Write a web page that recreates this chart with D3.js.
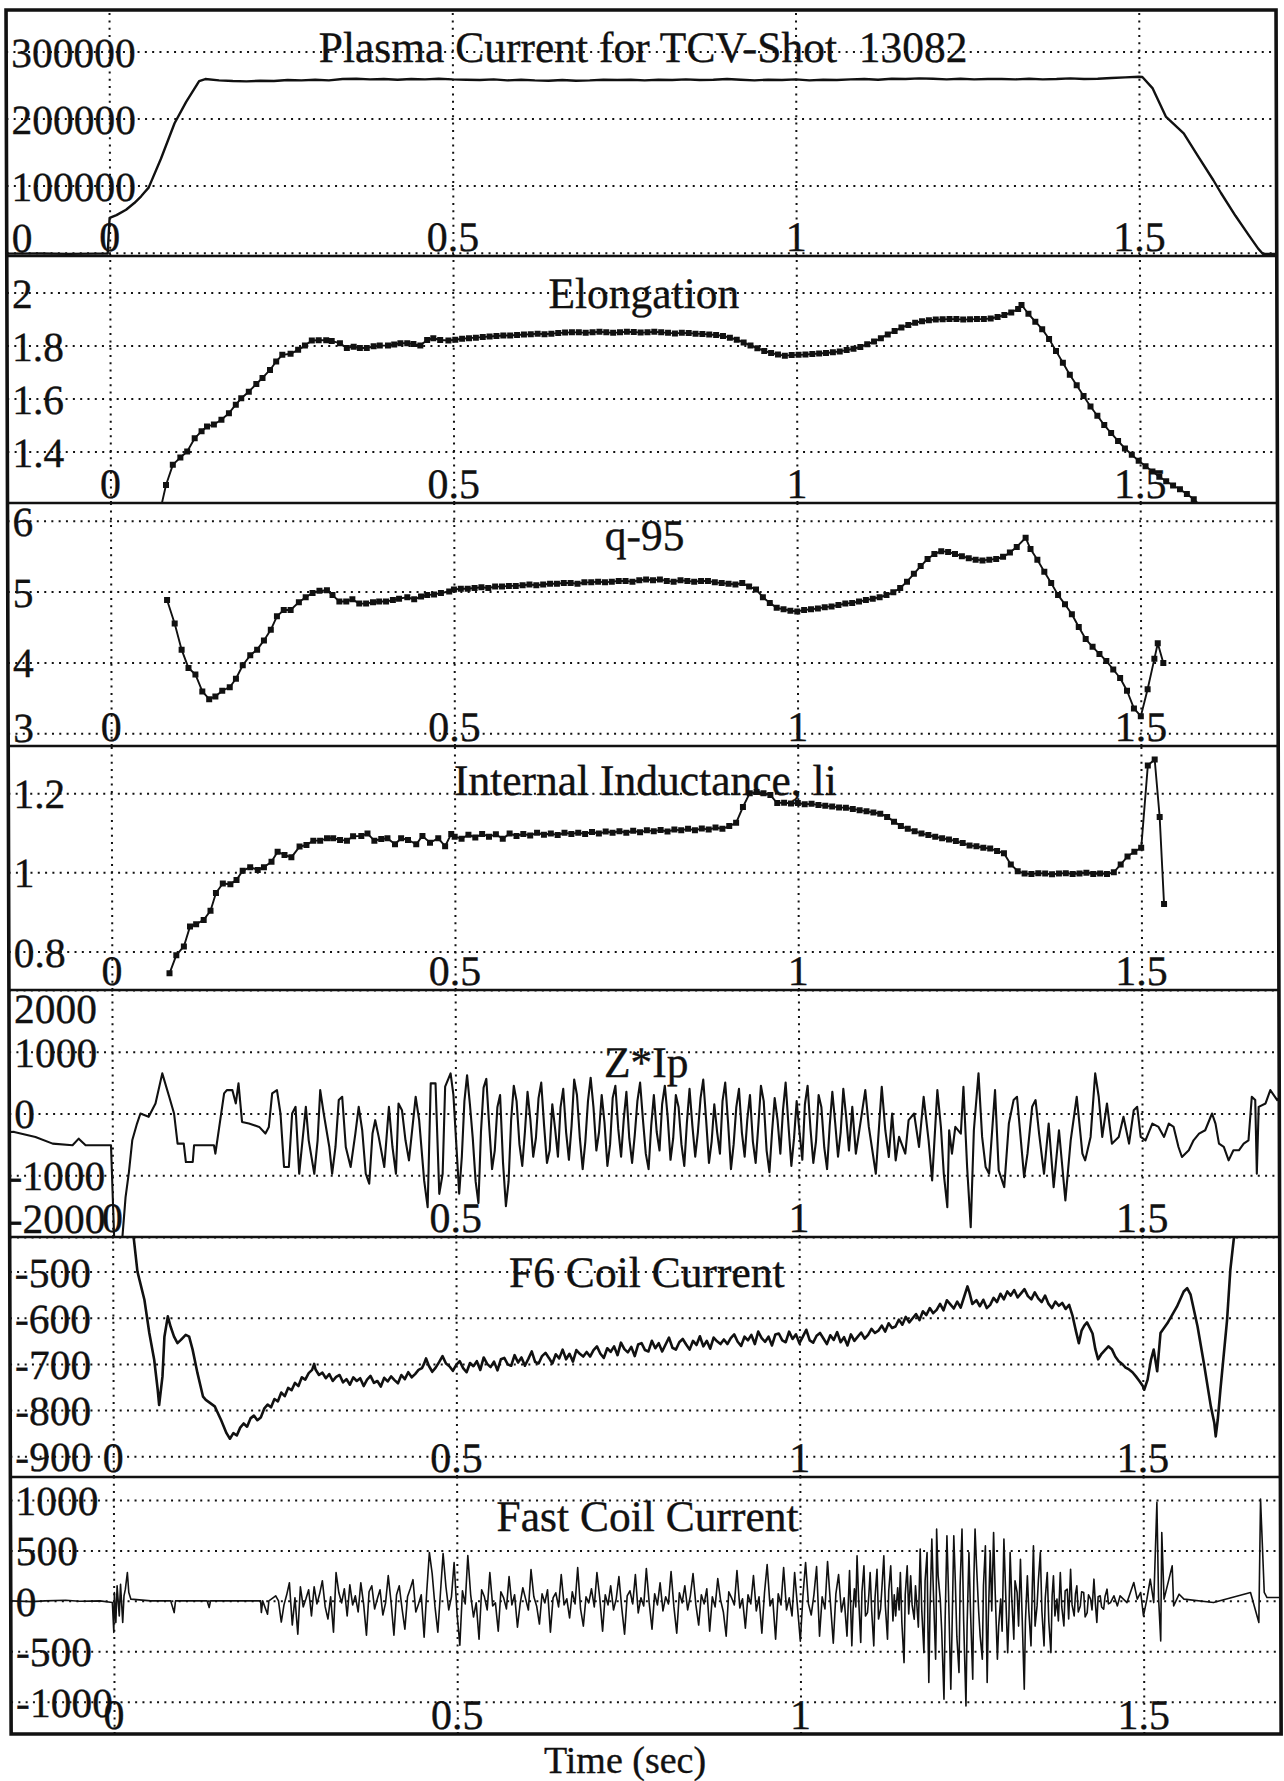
<!DOCTYPE html>
<html>
<head>
<meta charset="utf-8">
<script src="https://cdn.jsdelivr.net/npm/d3@7"></script>
<style>
  html, body { margin: 0; padding: 0; background: #fff; }
  svg { display: block; }
  text { font-family: "Liberation Serif", "Times New Roman", Times, serif; fill: #111; stroke: #111; stroke-width: 0.35; }
</style>
</head>
<body>
<svg id="chart" width="1284" height="1781"></svg>
<script>
// ---- time axis ----
const timeDomain = [-0.15, 1.7];
const timeTicks = [0, 0.5, 1, 1.5];
const timeTickLabels = ["0", "0.5", "1", "1.5"];

// ---- panel headings, value ranges and ticks ----
const panelTitles = ["Plasma Current for TCV-Shot  13082", "Elongation", "q-95",
  "Internal Inductance, li", "Z*Ip", "F6 Coil Current", "Fast Coil Current"];
const panelDomains = [[-5000, 362000], [1.206, 2.138], [2.82, 6.25], [0.703, 1.319],
  [-2000, 2000], [-945, -425], [-1320, 1228]];
const panelTicks = [[0, 100000, 200000, 300000], [1.4, 1.6, 1.8, 2], [3, 4, 5, 6],
  [0.8, 1, 1.2], [-2000, -1000, 0, 1000, 2000], [-900, -800, -700, -600, -500],
  [-1000, -500, 0, 500, 1000]];
const panelTickLabels = [["0", "100000", "200000", "300000"], ["1.4", "1.6", "1.8", "2"],
  ["3", "4", "5", "6"], ["0.8", "1", "1.2"], ["-2000", "-1000", "0", "1000", "2000"],
  ["-900", "-800", "-700", "-600", "-500"], ["-1000", "-500", "0", "500", "1000"]];

// ---- signals: [time (s), value] ----
const plasmaCurrent = [[-0.15,-1500],[-0.1,-1200],[-0.06,-1800],[-0.02,-1500],[-0.003,-1500],
  [0,52000],[0.01,56000],[0.024,64000],[0.036,74000],[0.046,84000],[0.051,90000],[0.057,97000],
  [0.075,140000],[0.095,193000],[0.112,225000],[0.131,256000],[0.14,259000],[0.16,257000],
  [0.18,256000],[0.2,255500],[0.22,256500],[0.24,256000],[0.26,257500],[0.28,257000],[0.3,258000],
  [0.32,257000],[0.34,259000],[0.36,259500],[0.38,258500],[0.4,259000],[0.42,258000],[0.44,259000],
  [0.46,258500],[0.48,259500],[0.5,258500],[0.52,258000],[0.54,257500],[0.56,258500],[0.58,257000],
  [0.6,258000],[0.62,257000],[0.64,256500],[0.66,257500],[0.68,256500],[0.7,257000],[0.72,258000],
  [0.74,257500],[0.76,258000],[0.78,257000],[0.8,258000],[0.82,257500],[0.84,258500],[0.86,257500],
  [0.88,258000],[0.9,259000],[0.92,258000],[0.94,257000],[0.96,258000],[0.98,257500],[1,258500],
  [1.02,257000],[1.04,258000],[1.06,257500],[1.08,258500],[1.1,259000],[1.12,258000],[1.14,259500],
  [1.16,259000],[1.18,260000],[1.2,259500],[1.22,258500],[1.24,259500],[1.26,258500],[1.28,259000],
  [1.3,259000],[1.32,258500],[1.34,259500],[1.36,258500],[1.38,259000],[1.4,260000],[1.42,259000],
  [1.44,259500],[1.46,260500],[1.48,261500],[1.5,262500],[1.505,262000],[1.52,245000],[1.539,203000],
  [1.565,178000],[1.585,145000],[1.608,108000],[1.619,89000],[1.64,55000],[1.66,25000],[1.673,6000],
  [1.68,-2000],[1.7,-2000]];

const elongation = [[0.07,1.15],[0.081,1.274],[0.091,1.35],[0.102,1.378],[0.112,1.4],[0.123,1.45],
  [0.133,1.477],[0.141,1.495],[0.151,1.502],[0.162,1.52],[0.173,1.545],[0.183,1.577],[0.191,1.601],
  [0.202,1.626],[0.213,1.655],[0.222,1.678],[0.233,1.708],[0.242,1.74],[0.251,1.765],[0.263,1.769],
  [0.274,1.784],[0.284,1.8],[0.294,1.819],[0.304,1.82],[0.315,1.82],[0.323,1.817],[0.335,1.809],
  [0.345,1.791],[0.355,1.796],[0.364,1.791],[0.374,1.791],[0.384,1.797],[0.393,1.8],[0.405,1.8],
  [0.414,1.804],[0.423,1.809],[0.433,1.809],[0.442,1.806],[0.452,1.8],[0.462,1.821],[0.471,1.828],
  [0.481,1.821],[0.493,1.819],[0.503,1.822],[0.513,1.826],[0.523,1.828],[0.533,1.83],[0.543,1.832],
  [0.553,1.834],[0.563,1.836],[0.573,1.838],[0.583,1.838],[0.593,1.84],[0.603,1.842],[0.613,1.843],
  [0.623,1.845],[0.633,1.843],[0.643,1.845],[0.653,1.847],[0.663,1.849],[0.673,1.85],[0.683,1.85],
  [0.693,1.848],[0.703,1.85],[0.713,1.852],[0.723,1.85],[0.733,1.848],[0.743,1.85],[0.753,1.852],
  [0.763,1.851],[0.773,1.849],[0.783,1.85],[0.793,1.852],[0.803,1.85],[0.813,1.848],[0.823,1.846],
  [0.833,1.848],[0.843,1.847],[0.853,1.845],[0.863,1.844],[0.873,1.842],[0.883,1.84],[0.893,1.836],
  [0.903,1.83],[0.913,1.822],[0.923,1.812],[0.933,1.8],[0.943,1.79],[0.953,1.78],[0.963,1.772],
  [0.973,1.766],[0.983,1.762],[0.993,1.764],[1.003,1.765],[1.013,1.766],[1.023,1.768],[1.033,1.77],
  [1.043,1.772],[1.053,1.775],[1.063,1.778],[1.073,1.783],[1.083,1.788],[1.093,1.795],[1.103,1.805],
  [1.113,1.815],[1.123,1.828],[1.133,1.842],[1.143,1.855],[1.153,1.868],[1.163,1.878],[1.173,1.886],
  [1.183,1.892],[1.193,1.896],[1.203,1.898],[1.213,1.899],[1.223,1.9],[1.233,1.9],[1.243,1.898],
  [1.253,1.899],[1.263,1.9],[1.273,1.9],[1.283,1.902],[1.293,1.908],[1.303,1.915],[1.313,1.925],
  [1.323,1.938],[1.328,1.953],[1.338,1.92],[1.348,1.89],[1.358,1.862],[1.368,1.825],[1.378,1.78],
  [1.388,1.735],[1.398,1.69],[1.408,1.65],[1.418,1.61],[1.428,1.57],[1.438,1.535],[1.448,1.5],
  [1.458,1.47],[1.468,1.44],[1.478,1.412],[1.488,1.388],[1.498,1.365],[1.508,1.345],[1.518,1.325],
  [1.528,1.305],[1.538,1.288],[1.548,1.272],[1.558,1.258],[1.568,1.24],[1.578,1.22],[1.588,1.195]];

const q95 = [[0.082,4.88],[0.093,4.55],[0.103,4.18],[0.113,3.92],[0.123,3.83],[0.133,3.59],
  [0.143,3.48],[0.152,3.52],[0.162,3.6],[0.173,3.65],[0.182,3.77],[0.192,3.96],[0.203,4.1],
  [0.213,4.18],[0.223,4.31],[0.233,4.46],[0.242,4.65],[0.252,4.74],[0.262,4.74],[0.274,4.85],
  [0.284,4.92],[0.294,4.98],[0.304,5.01],[0.315,5.02],[0.323,4.95],[0.333,4.86],[0.343,4.86],
  [0.352,4.89],[0.362,4.83],[0.372,4.83],[0.382,4.85],[0.391,4.86],[0.401,4.86],[0.411,4.88],
  [0.42,4.9],[0.432,4.92],[0.442,4.89],[0.452,4.93],[0.461,4.95],[0.471,4.96],[0.481,4.98],
  [0.493,5],[0.50,5.03],[0.51,5.04],[0.52,5.04],[0.53,5.05],[0.54,5.06],[0.55,5.05],[0.56,5.07],
  [0.57,5.07],[0.58,5.08],[0.59,5.08],[0.60,5.09],[0.61,5.10],[0.62,5.09],[0.63,5.10],[0.64,5.11],
  [0.65,5.11],[0.66,5.12],[0.67,5.12],[0.68,5.11],[0.69,5.13],[0.70,5.13],[0.71,5.14],[0.72,5.13],
  [0.73,5.14],[0.74,5.15],[0.75,5.15],[0.76,5.14],[0.77,5.16],[0.78,5.17],[0.79,5.16],[0.80,5.17],
  [0.81,5.15],[0.82,5.14],[0.83,5.16],[0.84,5.15],[0.85,5.14],[0.86,5.15],[0.87,5.15],[0.88,5.13],
  [0.89,5.12],[0.90,5.11],[0.91,5.10],[0.92,5.12],[0.93,5.07],[0.94,5.03],[0.95,4.92],[0.96,4.84],
  [0.97,4.77],[0.98,4.75],[0.99,4.73],[1.00,4.72],[1.01,4.74],[1.02,4.75],[1.03,4.76],[1.04,4.78],
  [1.05,4.79],[1.06,4.81],[1.07,4.83],[1.08,4.84],[1.09,4.86],[1.10,4.88],[1.11,4.90],[1.12,4.92],
  [1.13,4.95],[1.14,4.99],[1.15,5.05],[1.16,5.14],[1.17,5.25],[1.18,5.36],[1.19,5.46],[1.20,5.53],
  [1.21,5.57],[1.22,5.56],[1.23,5.53],[1.24,5.50],[1.25,5.47],[1.26,5.45],[1.27,5.44],[1.28,5.45],
  [1.29,5.46],[1.30,5.49],[1.31,5.55],[1.32,5.63],[1.333,5.76],[1.34,5.60],[1.35,5.45],[1.36,5.28],
  [1.37,5.12],[1.38,4.95],[1.39,4.82],[1.40,4.68],[1.41,4.50],[1.42,4.33],[1.43,4.22],[1.44,4.12],
  [1.45,4.02],[1.46,3.90],[1.47,3.78],[1.48,3.60],[1.49,3.35],[1.50,3.24],[1.51,3.62],[1.52,4.05],
  [1.525,4.27],[1.533,3.99]];

const internalInductance = [[0.084,0.745],[0.094,0.791],[0.105,0.813],[0.114,0.863],[0.123,0.869],
  [0.134,0.88],[0.144,0.903],[0.152,0.948],[0.162,0.972],[0.173,0.97],[0.182,0.981],[0.191,1.004],
  [0.202,1.013],[0.213,1.006],[0.222,1.013],[0.233,1.027],[0.242,1.052],[0.252,1.044],[0.262,1.038],
  [0.274,1.065],[0.284,1.069],[0.294,1.08],[0.304,1.08],[0.314,1.086],[0.323,1.086],[0.333,1.082],
  [0.343,1.08],[0.352,1.091],[0.364,1.092],[0.373,1.098],[0.383,1.08],[0.393,1.084],[0.402,1.086],
  [0.413,1.071],[0.422,1.086],[0.432,1.082],[0.444,1.071],[0.453,1.092],[0.464,1.075],[0.476,1.086],
  [0.486,1.066],[0.495,1.097],[0.50,1.090],[0.51,1.085],[0.52,1.095],[0.53,1.088],[0.54,1.097],
  [0.55,1.090],[0.56,1.096],[0.57,1.085],[0.58,1.098],[0.59,1.092],[0.60,1.097],[0.61,1.093],
  [0.62,1.100],[0.63,1.095],[0.64,1.098],[0.65,1.094],[0.66,1.100],[0.67,1.097],[0.68,1.100],
  [0.69,1.097],[0.70,1.102],[0.71,1.098],[0.72,1.103],[0.73,1.100],[0.74,1.104],[0.75,1.100],
  [0.76,1.105],[0.77,1.101],[0.78,1.106],[0.79,1.104],[0.80,1.107],[0.81,1.103],[0.82,1.108],
  [0.83,1.106],[0.84,1.110],[0.85,1.106],[0.86,1.111],[0.87,1.108],[0.88,1.113],[0.89,1.110],
  [0.90,1.117],[0.91,1.125],[0.92,1.165],[0.93,1.200],[0.94,1.203],[0.95,1.200],[0.96,1.195],
  [0.97,1.175],[0.98,1.176],[0.99,1.174],[1.00,1.175],[1.01,1.172],[1.02,1.173],[1.03,1.170],
  [1.04,1.168],[1.05,1.166],[1.06,1.164],[1.07,1.163],[1.08,1.160],[1.09,1.157],[1.10,1.154],
  [1.11,1.151],[1.12,1.148],[1.13,1.140],[1.14,1.128],[1.15,1.117],[1.16,1.110],[1.17,1.104],
  [1.18,1.098],[1.19,1.094],[1.20,1.090],[1.21,1.086],[1.22,1.083],[1.23,1.079],[1.24,1.074],
  [1.25,1.068],[1.26,1.066],[1.27,1.062],[1.28,1.060],[1.29,1.054],[1.30,1.048],[1.31,1.020],
  [1.32,1.003],[1.33,0.997],[1.34,0.996],[1.35,0.998],[1.36,0.997],[1.37,0.995],[1.38,0.997],
  [1.39,0.998],[1.40,0.996],[1.41,0.997],[1.42,0.999],[1.43,0.996],[1.44,0.997],[1.45,0.996],
  [1.46,1.000],[1.47,1.020],[1.48,1.040],[1.49,1.052],[1.50,1.062],[1.51,1.270],[1.52,1.285],
  [1.527,1.140],[1.533,0.920]];

const zTimesIp = [[-0.15,-300],[-0.143,-298],[-0.112,-379],[-0.087,-488],[-0.058,-515],[-0.049,-407],
  [-0.039,-515],[-0.015,-515],[-0.002,-515],[0.003,-2300],[0.012,-2300],[0.019,-1355],[0.024,-949],
  [0.029,-434],[0.036,-163],[0.041,0],[0.053,-54],[0.063,163],[0.073,650],[0.083,271],[0.09,0],
  [0.095,-488],[0.104,-488],[0.107,-786],[0.117,-786],[0.119,-515],[0.148,-515],[0.15,-650],
  [0.163,325],[0.167,379],[0.175,379],[0.18,163],[0.184,488],[0.189,-136],[0.199,-163],[0.214,-217],
  [0.223,-325],[0.228,-217],[0.233,325],[0.24,379],[0.245,0],[0.25,-867],[0.257,-867],[0.262,0],
  [0.267,108],[0.272,-976],[0.277,-434],[0.282,108],[0.286,-434],[0.294,-976],[0.299,-434],
  [0.303,379],[0.308,0],[0.316,-542],[0.32,-976],[0.325,-542],[0.33,217],[0.335,271],[0.34,-542],
  [0.347,-867],[0.354,-325],[0.359,108],[0.364,-271],[0.369,-976],[0.374,-1138],[0.379,-325],
  [0.383,-108],[0.388,-379],[0.396,-867],[0.403,108],[0.408,-542],[0.413,-976],[0.417,163],
  [0.422,54],[0.427,-434],[0.432,-759],[0.442,271],[0.447,-108],[0.454,-1084],[0.459,-1518],
  [0.464,488],[0.471,488],[0.476,-1301],[0.481,-976],[0.485,434],[0.493,650],[0.497,300],
  [0.501,-500],[0.505,-1300],[0.509,-700],[0.513,200],[0.517,620],[0.521,150],[0.525,-400],
  [0.529,-1100],[0.533,-1450],[0.537,-300],[0.541,420],[0.545,560],[0.549,-200],[0.553,-900],
  [0.557,-600],[0.561,100],[0.565,300],[0.569,-800],[0.573,-1500],[0.577,-1100],[0.581,-100],
  [0.585,450],[0.589,200],[0.593,-500],[0.597,-850],[0.601,-300],[0.605,350],[0.609,-100],
  [0.613,-700],[0.617,-400],[0.621,250],[0.625,500],[0.629,-200],[0.633,-800],[0.637,-600],
  [0.641,150],[0.645,-250],[0.649,-700],[0.653,100],[0.657,400],[0.661,-300],[0.665,-750],
  [0.669,-200],[0.673,550],[0.677,300],[0.681,-400],[0.685,-900],[0.689,-450],[0.693,200],
  [0.697,580],[0.701,100],[0.705,-600],[0.709,-300],[0.713,300],[0.717,-150],[0.721,-850],
  [0.725,-500],[0.729,250],[0.733,450],[0.737,-250],[0.741,-700],[0.745,-100],[0.749,350],
  [0.753,-400],[0.757,-800],[0.761,-350],[0.765,200],[0.769,500],[0.773,-100],[0.777,-650],
  [0.781,-900],[0.785,-200],[0.789,300],[0.793,-300],[0.797,-600],[0.801,150],[0.805,450],
  [0.809,-50],[0.813,-750],[0.817,-400],[0.821,300],[0.825,100],[0.829,-500],[0.833,-850],
  [0.837,-150],[0.841,400],[0.845,-200],[0.849,-700],[0.853,-300],[0.857,250],[0.861,550],
  [0.865,-100],[0.869,-800],[0.873,-450],[0.877,150],[0.881,-300],[0.885,-650],[0.889,200],
  [0.893,500],[0.897,-150],[0.901,-900],[0.905,-500],[0.909,100],[0.913,400],[0.917,-300],
  [0.921,-700],[0.925,-100],[0.929,300],[0.933,-450],[0.937,-800],[0.941,-200],[0.945,450],
  [0.949,200],[0.953,-600],[0.957,-950],[0.961,-300],[0.965,250],[0.969,-100],[0.973,-650],
  [0.977,50],[0.981,500],[0.985,-200],[0.989,-850],[0.993,-400],[0.997,200],[1.001,-300],
  [1.005,-750],[1.009,150],[1.013,450],[1.017,-250],[1.021,-800],[1.025,-450],[1.029,300],
  [1.033,100],[1.037,-550],[1.041,-900],[1.045,-200],[1.049,350],[1.053,-150],[1.057,-700],
  [1.061,-300],[1.065,400],[1.069,-50],[1.073,-600],[1.078,108],[1.083,-650],
  [1.097,379],[1.102,-217],[1.112,-976],[1.121,434],[1.126,-271],[1.131,-705],[1.136,0],
  [1.141,-759],[1.146,-379],[1.155,-650],[1.16,-108],[1.168,0],[1.175,-542],[1.182,271],
  [1.189,-434],[1.194,-1084],[1.202,379],[1.207,-217],[1.211,-976],[1.216,-1518],[1.219,-271],
  [1.223,-650],[1.228,-217],[1.236,-325],[1.24,434],[1.245,-867],[1.25,-1843],[1.255,-271],
  [1.262,650],[1.267,-379],[1.272,-867],[1.277,-976],[1.286,379],[1.291,-921],[1.299,-1192],
  [1.306,-163],[1.313,217],[1.318,271],[1.323,-379],[1.328,-1030],[1.333,-650],[1.34,108],
  [1.345,217],[1.35,-325],[1.357,-976],[1.364,-163],[1.371,-1192],[1.379,-271],[1.388,-1409],
  [1.396,-434],[1.405,271],[1.413,-650],[1.417,-759],[1.425,-379],[1.432,650],[1.437,271],
  [1.442,-379],[1.449,163],[1.456,-488],[1.466,-379],[1.473,-54],[1.481,-488],[1.488,54],
  [1.493,108],[1.498,-379],[1.505,-434],[1.515,-163],[1.524,-217],[1.532,-379],[1.539,-163],
  [1.546,-217],[1.553,-542],[1.558,-705],[1.568,-596],[1.575,-434],[1.583,-325],[1.592,-271],
  [1.602,0],[1.607,-163],[1.612,-488],[1.619,-542],[1.626,-759],[1.633,-596],[1.641,-596],
  [1.648,-488],[1.655,-434],[1.66,271],[1.665,217],[1.667,-976],[1.67,108],[1.68,163],[1.687,379],
  [1.697,217],[1.7,250]];

const f6Current = [[0.025,-380],[0.031,-431],[0.036,-500],[0.046,-561],[0.053,-633],[0.06,-691],
  [0.065,-756],[0.067,-789],[0.072,-727],[0.075,-641],[0.08,-597],[0.084,-619],[0.089,-641],
  [0.094,-655],[0.099,-648],[0.106,-637],[0.111,-641],[0.116,-669],[0.123,-720],[0.131,-771],
  [0.135,-778],[0.148,-792],[0.157,-821],[0.165,-850],[0.170,-862],[0.175,-850],[0.180,-855],
  [0.185,-838],[0.190,-829],[0.195,-836],[0.200,-818],[0.205,-812],[0.210,-822],[0.215,-816],
  [0.220,-797],[0.225,-788],[0.230,-794],[0.235,-776],[0.240,-781],[0.245,-762],[0.250,-770],
  [0.255,-752],[0.260,-757],[0.265,-741],[0.270,-748],[0.275,-729],[0.280,-734],[0.285,-720],
  [0.290,-713],[0.293,-700],[0.295,-712],[0.300,-724],[0.305,-719],[0.310,-731],[0.315,-722],
  [0.320,-737],[0.325,-728],[0.330,-724],[0.335,-740],[0.340,-733],[0.345,-745],[0.350,-729],
  [0.355,-737],[0.360,-731],[0.365,-748],[0.370,-734],[0.375,-726],[0.380,-741],[0.385,-737],
  [0.390,-749],[0.395,-730],[0.400,-738],[0.405,-727],[0.410,-735],[0.415,-742],[0.420,-724],
  [0.425,-733],[0.430,-718],[0.435,-729],[0.440,-722],[0.445,-713],[0.450,-709],[0.453,-700],
  [0.456,-688],[0.460,-704],[0.465,-717],[0.470,-708],[0.475,-696],[0.480,-683],[0.485,-699],
  [0.490,-705],[0.495,-715],[0.500,-702],[0.505,-694],[0.510,-709],[0.515,-718],[0.520,-698],
  [0.525,-705],[0.530,-694],[0.535,-713],[0.540,-686],[0.545,-700],[0.550,-707],[0.555,-695],
  [0.560,-714],[0.565,-690],[0.570,-687],[0.575,-701],[0.580,-704],[0.585,-681],[0.590,-697],
  [0.595,-686],[0.600,-704],[0.605,-689],[0.610,-673],[0.615,-696],[0.620,-699],[0.625,-683],
  [0.630,-676],[0.635,-687],[0.640,-699],[0.645,-679],[0.650,-688],[0.655,-669],[0.660,-690],
  [0.665,-678],[0.670,-695],[0.675,-670],[0.680,-678],[0.685,-684],[0.690,-674],[0.695,-684],
  [0.700,-670],[0.705,-662],[0.710,-678],[0.715,-687],[0.720,-666],[0.725,-674],[0.730,-662],
  [0.735,-681],[0.740,-654],[0.745,-668],[0.750,-675],[0.755,-663],[0.760,-683],[0.765,-658],
  [0.770,-655],[0.775,-670],[0.780,-673],[0.785,-650],[0.790,-666],[0.795,-655],[0.800,-673],
  [0.805,-658],[0.810,-643],[0.815,-665],[0.820,-669],[0.825,-653],[0.830,-646],[0.835,-658],
  [0.840,-669],[0.845,-650],[0.850,-659],[0.855,-640],[0.860,-662],[0.865,-650],[0.870,-667],
  [0.875,-643],[0.880,-651],[0.885,-657],[0.890,-647],[0.895,-657],[0.900,-644],[0.905,-636],
  [0.910,-652],[0.915,-661],[0.920,-641],[0.925,-649],[0.930,-637],[0.935,-657],[0.940,-630],
  [0.945,-644],[0.950,-652],[0.955,-641],[0.960,-660],[0.965,-636],[0.970,-634],[0.975,-649],
  [0.980,-653],[0.985,-630],[0.990,-646],[0.995,-636],[1.000,-655],[1.005,-641],[1.010,-626],
  [1.015,-649],[1.020,-654],[1.025,-639],[1.030,-633],[1.035,-645],[1.040,-657],[1.045,-638],
  [1.050,-648],[1.055,-631],[1.060,-653],[1.065,-642],[1.070,-660],[1.075,-636],[1.080,-650],
  [1.085,-641],[1.090,-632],[1.095,-645],[1.100,-637],[1.105,-624],[1.110,-633],[1.115,-628],
  [1.120,-617],[1.125,-630],[1.130,-612],[1.135,-622],[1.140,-619],[1.145,-604],[1.150,-615],
  [1.155,-598],[1.160,-610],[1.165,-601],[1.170,-592],[1.175,-605],[1.180,-586],[1.185,-594],
  [1.190,-579],[1.195,-590],[1.200,-583],[1.205,-570],[1.210,-584],[1.215,-562],[1.220,-571],
  [1.225,-580],[1.230,-565],[1.235,-578],[1.240,-555],[1.245,-532],[1.248,-546],[1.252,-570],
  [1.258,-562],[1.263,-575],[1.268,-561],[1.273,-579],[1.278,-572],[1.283,-557],[1.288,-566],
  [1.293,-548],[1.298,-560],[1.303,-543],[1.308,-552],[1.313,-540],[1.318,-556],[1.323,-547],
  [1.328,-538],[1.333,-553],[1.338,-560],[1.343,-545],[1.348,-558],[1.353,-566],[1.358,-552],
  [1.363,-570],[1.368,-579],[1.373,-565],[1.378,-574],[1.383,-568],[1.388,-581],[1.393,-572],
  [1.398,-596],[1.403,-630],[1.407,-655],[1.411,-628],[1.415,-617],[1.419,-610],[1.423,-622],
  [1.427,-634],[1.431,-668],[1.435,-690],[1.440,-678],[1.445,-670],[1.450,-662],[1.455,-668],
  [1.460,-684],[1.465,-694],[1.470,-700],[1.475,-708],[1.480,-712],[1.485,-718],[1.490,-727],
  [1.495,-737],[1.500,-748],[1.502,-756],[1.507,-734],[1.512,-691],[1.516,-669],[1.521,-716],
  [1.526,-633],[1.536,-612],[1.55,-576],[1.56,-543],[1.565,-536],[1.57,-550],[1.58,-619],
  [1.589,-698],[1.599,-792],[1.604,-828],[1.606,-857],[1.609,-821],[1.613,-756],[1.623,-605],
  [1.628,-496],[1.633,-431],[1.64,-380]];

const fastCoilCurrent = [[-0.15,0],[-0.12,-8],[-0.1,0],[-0.07,6],[-0.05,-4],[-0.02,0],[-0.002,-17],
  [0,-314],[0.001,83],[0.003,-215],[0.005,149],[0.008,-149],[0.01,165],[0.013,-215],[0.015,50],
  [0.017,116],[0.02,281],[0.022,83],[0.025,17],[0.054,0],[0.083,0],[0.088,-116],[0.09,0],
  [0.136,0],[0.139,-66],[0.141,0],[0.214,0],[0.215,-116],[0.217,0],[0.224,-132],[0.226,0],
  [0.236,50],[0.240,0],[0.244,-210],[0.248,-40],[0.252,60],[0.256,180],[0.260,-240],[0.264,30],
  [0.268,-330],[0.272,140],[0.276,-60],[0.280,20],[0.284,110],[0.288,-150],[0.292,140],[0.296,-30],
  [0.300,70],[0.304,200],[0.308,-60],[0.312,-180],[0.316,40],[0.320,-310],[0.324,280],[0.328,80],
  [0.332,-20],[0.336,120],[0.340,-150],[0.344,160],[0.348,-40],[0.352,50],[0.356,-110],[0.360,180],
  [0.364,-30],[0.368,-340],[0.372,90],[0.376,150],[0.380,-80],[0.384,20],[0.388,110],[0.392,-140],
  [0.396,-20],[0.400,250],[0.404,-10],[0.408,-340],[0.412,60],[0.416,150],[0.420,-80],[0.424,-280],
  [0.428,40],[0.432,120],[0.436,210],[0.440,-110],[0.444,-30],[0.448,60],[0.452,-360],[0.456,90],
  [0.460,480],[0.464,270],[0.468,-60],[0.472,-310],[0.476,80],[0.480,470],[0.484,140],[0.488,-90],
  [0.492,40],[0.496,380],[0.500,-120],[0.504,-440],[0.508,100],[0.512,-30],[0.516,450],[0.520,60],
  [0.524,-160],[0.528,-20],[0.532,-380],[0.536,110],[0.540,40],[0.544,-90],[0.548,280],[0.552,-50],
  [0.556,-20],[0.560,-300],[0.564,90],[0.568,30],[0.572,-80],[0.576,240],[0.580,-40],[0.584,60],
  [0.588,-260],[0.592,-30],[0.596,130],[0.600,20],[0.604,-90],[0.608,310],[0.612,40],[0.616,-50],
  [0.620,-230],[0.624,70],[0.628,-20],[0.632,110],[0.636,-310],[0.640,30],[0.644,80],[0.648,-60],
  [0.652,260],[0.656,-40],[0.660,20],[0.664,-170],[0.668,90],[0.672,-30],[0.676,330],[0.680,-80],
  [0.684,-250],[0.688,40],[0.692,-20],[0.696,120],[0.700,-60],[0.704,280],[0.708,30],[0.712,-300],
  [0.716,60],[0.720,-40],[0.724,150],[0.728,-90],[0.732,20],[0.736,240],[0.740,-70],[0.744,-330],
  [0.748,50],[0.752,100],[0.756,-30],[0.760,260],[0.764,-120],[0.768,30],[0.772,-50],[0.776,320],
  [0.780,-20],[0.784,-280],[0.788,70],[0.792,-40],[0.796,180],[0.800,-100],[0.804,40],[0.808,-30],
  [0.812,290],[0.816,-60],[0.820,-320],[0.824,80],[0.828,-20],[0.832,150],[0.836,-90],[0.840,50],
  [0.844,270],[0.848,-40],[0.852,-240],[0.856,60],[0.860,-30],[0.864,120],[0.868,-300],[0.872,40],
  [0.876,-60],[0.880,220],[0.884,10],[0.888,-110],[0.892,-350],[0.896,90],[0.900,30],[0.904,-40],
  [0.908,300],[0.912,-70],[0.916,20],[0.920,-270],[0.924,60],[0.928,-30],[0.932,250],[0.936,-100],
  [0.940,40],[0.944,-320],[0.948,80],[0.952,360],[0.956,-50],[0.960,20],[0.964,-380],[0.968,70],
  [0.972,-40],[0.976,330],[0.980,-90],[0.984,30],[0.988,-150],[0.992,280],[0.996,-60],[1.000,-400],
  [1.004,50],[1.008,380],[1.012,-30],[1.016,-140],[1.020,60],[1.024,340],[1.028,-350],[1.032,40],
  [1.036,-80],[1.040,390],[1.044,-20],[1.048,-420],[1.052,70],[1.056,260],[1.060,-110],[1.064,30],
  [1.068,-350],[1.072,300],[1.075,-446],[1.077,-80],[1.079,120],[1.081,-60],[1.083,446],[1.085,40],
  [1.088,-413],[1.090,90],[1.093,347],[1.095,-150],[1.098,-116],[1.100,60],[1.102,281],[1.104,-90],
  [1.107,-446],[1.109,30],[1.112,314],[1.114,-180],[1.117,-83],[1.119,120],[1.122,446],[1.124,-50],
  [1.127,-380],[1.129,100],[1.132,347],[1.135,-200],[1.137,60],[1.139,-149],[1.142,130],[1.144,-90],
  [1.146,281],[1.148,-220],[1.151,-612],[1.153,60],[1.156,347],[1.158,-130],[1.161,248],[1.163,-40],
  [1.166,-182],[1.168,150],[1.170,-50],[1.172,-260],[1.175,513],[1.177,-90],[1.180,-513],[1.182,200],
  [1.185,480],[1.186,-300],[1.187,-810],[1.189,-100],[1.192,612],[1.194,100],[1.197,-579],
  [1.198,-200],[1.199,711],[1.201,250],[1.204,17],[1.206,-300],[1.209,-976],[1.211,-200],
  [1.214,645],[1.216,100],[1.219,-876],[1.221,-300],[1.224,645],[1.226,200],[1.228,-350],
  [1.231,-711],[1.233,150],[1.236,711],[1.238,-200],[1.241,-1042],[1.243,-250],[1.246,480],
  [1.248,-100],[1.251,-777],[1.253,200],[1.255,711],[1.257,350],[1.260,-116],[1.262,-350],
  [1.265,-579],[1.267,150],[1.270,546],[1.271,-200],[1.272,-810],[1.274,-150],[1.277,480],
  [1.279,-100],[1.282,678],[1.284,100],[1.287,-579],[1.289,-250],[1.292,17],[1.294,-300],
  [1.297,612],[1.299,150],[1.302,-513],[1.304,-150],[1.306,480],[1.308,50],[1.311,-380],[1.313,200],
  [1.316,83],[1.318,-250],[1.321,413],[1.323,-100],[1.326,-876],[1.328,-200],[1.331,248],
  [1.333,-100],[1.336,-446],[1.338,100],[1.340,546],[1.342,-250],[1.345,-50],[1.347,200],
  [1.350,480],[1.352,-100],[1.355,-446],[1.357,30],[1.360,281],[1.362,-200],[1.365,-513],[1.367,50],
  [1.369,248],[1.371,-150],[1.374,17],[1.376,-200],[1.379,281],[1.381,-60],[1.384,-248],[1.386,100],
  [1.389,116],[1.391,-180],[1.394,314],[1.396,-40],[1.399,-149],[1.401,70],[1.403,149],[1.405,-110],
  [1.408,-50],[1.410,90],[1.413,83],[1.415,-160],[1.418,-116],[1.420,60],[1.423,17],[1.425,-90],
  [1.428,215],[1.430,-30],[1.432,-215],[1.434,40],[1.437,50],[1.439,-60],[1.442,-83],[1.444,40],
  [1.447,116],[1.449,-30],[1.452,-17],[1.457,50],[1.462,-50],[1.466,50],[1.476,-17],[1.486,182],
  [1.491,17],[1.496,83],[1.5,-149],[1.505,17],[1.51,215],[1.515,-17],[1.52,976],[1.522,33],
  [1.525,-397],[1.527,678],[1.53,17],[1.542,347],[1.544,-50],[1.552,66],[1.559,17],[1.602,-17],
  [1.656,83],[1.668,-215],[1.671,1009],[1.676,83],[1.68,33],[1.7,33]];

const panelSeries = [plasmaCurrent, elongation, q95, internalInductance, zTimesIp, f6Current, fastCoilCurrent];
const panelMarkers = [false, true, true, true, false, false, false];

// ---- layout ----
const frameLeft = 6, frameRight = 1276;
const panelEdges = [10, 256, 503, 746, 990, 1237, 1477, 1734];
const titleOffsets = [52, 52, 47, 49, 87, 50, 54];
const lineWidths = [2.4, 1.9, 1.9, 1.9, 2.1, 2.6, 1.6];

const svg = d3.select("#chart");
svg.append("rect").attr("width", 1284).attr("height", 1781).attr("fill", "#fff");
const defs = svg.append("defs");
// the plotted sheet leans very slightly to the right toward the bottom
const sheet = svg.append("g").attr("transform", "skewX(0.17)");

const x = d3.scaleLinear().domain(timeDomain).range([frameLeft, frameRight]);

panelTitles.forEach((title, i) => {
  const top = panelEdges[i], bottom = panelEdges[i + 1];
  const y = d3.scaleLinear().domain(panelDomains[i]).range([bottom, top]);
  const g = sheet.append("g");

  defs.append("clipPath").attr("id", "panel-clip-" + i)
    .append("rect").attr("x", frameLeft).attr("y", top)
    .attr("width", frameRight - frameLeft).attr("height", bottom - top);

  // dotted grid: horizontal at the value ticks, vertical at the time ticks
  const hGrid = g.append("g").attr("transform", `translate(${frameLeft},0)`)
    .call(d3.axisLeft(y).tickValues(panelTicks[i]).tickSize(-(frameRight - frameLeft)).tickFormat(""));
  const vGrid = g.append("g").attr("transform", `translate(0,${bottom})`)
    .call(d3.axisBottom(x).tickValues(timeTicks).tickSize(-(bottom - top)).tickFormat(""));
  [hGrid, vGrid].forEach(ax => {
    ax.select(".domain").remove();
    ax.selectAll(".tick line").attr("stroke", "#111").attr("stroke-width", 2)
      .attr("stroke-dasharray", "2,5.3");
  });

  // signal trace
  const data = panelSeries[i];
  const plot = g.append("g").attr("clip-path", `url(#panel-clip-${i})`);
  plot.append("path").datum(data)
    .attr("fill", "none").attr("stroke", "#111").attr("stroke-width", lineWidths[i])
    .attr("stroke-linejoin", "round")
    .attr("d", d3.line().x(d => x(d[0])).y(d => y(d[1])));
  if (panelMarkers[i]) {
    plot.selectAll("rect.mk").data(data).join("rect").attr("class", "mk")
      .attr("x", d => x(d[0]) - 3).attr("y", d => y(d[1]) - 3)
      .attr("width", 6).attr("height", 6).attr("fill", "#111");
  }

  // value labels, kept inside the panel
  g.selectAll("text.yl").data(panelTicks[i]).join("text").attr("class", "yl")
    .attr("x", d => (i === 4 && d < 0) ? 5 : 11)
    .attr("y", d => Math.max(top + 33, Math.min(bottom - 4, y(d) + 15)))
    .attr("font-size", 41.5)
    .text((d, k) => panelTickLabels[i][k]);

  // time labels along the foot of each panel
  g.selectAll("text.xl").data(timeTicks).join("text").attr("class", "xl")
    .attr("x", d => x(d)).attr("y", bottom - 5)
    .attr("text-anchor", "middle").attr("font-size", 42)
    .text((d, k) => timeTickLabels[k]);

  // heading
  g.append("text").attr("x", (frameLeft + frameRight) / 2 + 2).attr("y", top + titleOffsets[i])
    .attr("text-anchor", "middle").attr("font-size", 43.5)
    .attr("xml:space", "preserve").style("white-space", "pre").text(title);

  if (i > 0) {
    g.append("line").attr("x1", frameLeft).attr("x2", frameRight)
      .attr("y1", top).attr("y2", top).attr("stroke", "#111").attr("stroke-width", 2.3);
  }
});

sheet.append("rect").attr("x", frameLeft).attr("y", panelEdges[0])
  .attr("width", frameRight - frameLeft).attr("height", panelEdges[7] - panelEdges[0])
  .attr("fill", "none").attr("stroke", "#111").attr("stroke-width", 3.6);

svg.append("text").attr("x", 625).attr("y", 1773).attr("text-anchor", "middle")
  .attr("font-size", 38).text("Time (sec)");
</script>
</body>
</html>
